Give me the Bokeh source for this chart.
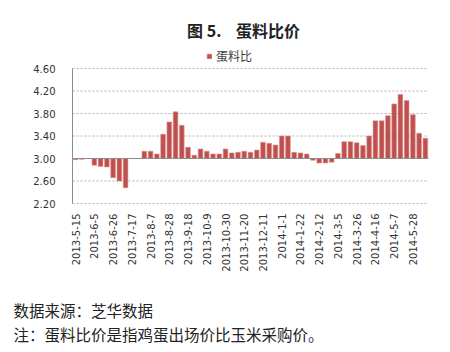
import math
import pandas as pd
from bokeh.plotting import figure
from bokeh.models import FixedTicker, Legend, LegendItem, PrintfTickFormatter, Label
from bokeh.embed import file_html
from bokeh.resources import INLINE

# weekly categories 2013-5-15 ... 2014-6-11
weeks = [f"{d.year}-{d.month}-{d.day}" for d in pd.date_range("2013-05-15", periods=57, freq="7D")]
values = [2.98, 2.985, 3.00, 2.88, 2.86, 2.85, 2.66, 2.60, 2.48, 3.00, 3.00,
          3.13, 3.13, 3.08, 3.43, 3.65, 3.83, 3.59, 3.20, 3.06, 3.17,
          3.13, 3.08, 3.08, 3.17, 3.10, 3.11, 3.13, 3.11, 3.15, 3.29,
          3.27, 3.24, 3.40, 3.40, 3.11, 3.10, 3.08, 2.97, 2.92, 2.92,
          2.935, 3.09, 3.30, 3.30, 3.28, 3.23, 3.40, 3.67, 3.67, 3.76,
          3.97, 4.14, 4.03, 3.78, 3.45, 3.36]
y_ticks = [2.20, 2.60, 3.00, 3.40, 3.80, 4.20, 4.60]
baseline = 3.00
series_name = "蛋料比"
title_text = "图 5.\u00a0\u00a0\u00a0\u00a0蛋料比价"
source_text = "数据来源：芝华数据"
note_text = "注：蛋料比价是指鸡蛋出场价比玉米采购价。"

BAR_COLOR = "#C0504D"
CJK = "Noto Sans CJK SC"
W, H = 450, 352
# plot area inside the canvas (pixels)
PL, PR, PT, PB = 72, 428, 68, 203

n = len(values)
x0, x1 = -0.5, n - 0.5
y0, y1 = y_ticks[0], y_ticks[-1]
sx = (PR - PL) / (x1 - x0)
sy = (PB - PT) / (y1 - y0)
xr = (x0 - PL / sx, x1 + (W - PR) / sx)
yr = (y0 - (H - PB) / sy, y1 + PT / sy)

p = figure(width=W, height=H, output_backend="svg", toolbar_location=None,
           x_range=xr, y_range=yr, min_border=0)
p.outline_line_color = None
p.grid.visible = False

# dotted gridlines and baseline over the plot area
p.segment(x0=[x0] * len(y_ticks), x1=[x1] * len(y_ticks), y0=y_ticks, y1=y_ticks,
          line_color="#B0B0B0", line_dash="2 2", line_width=1)

xs = list(range(n))
r = p.vbar(x=xs, top=values, bottom=baseline, width=0.75,
           fill_color=BAR_COLOR, line_color="#D99694", line_width=0.6)
p.segment(x0=[x0], x1=[x1], y0=[baseline], y1=[baseline], line_color="#8C8C8C", line_width=1)

tick_idx = xs[::3][:19]
p.xaxis.fixed_location = y0
p.xaxis.ticker = FixedTicker(ticks=tick_idx)
p.xaxis.major_label_overrides = {i: weeks[i] for i in tick_idx}
p.xaxis.major_label_orientation = math.pi / 2
p.xaxis.axis_line_color = None
p.xaxis.major_tick_line_color = None
p.xaxis.minor_tick_line_color = None
p.xaxis.major_label_text_font = "DejaVu Sans"
p.xaxis.major_label_text_font_size = "10px"
p.xaxis.major_label_text_color = "#333333"
p.xaxis.major_label_standoff = 4

p.yaxis.fixed_location = x0
p.yaxis.bounds = (y0, y1)
p.yaxis.ticker = FixedTicker(ticks=y_ticks)
p.yaxis.formatter = PrintfTickFormatter(format="%.2f")
p.yaxis.axis_line_color = "#8C8C8C"
p.yaxis.major_tick_line_color = None
p.yaxis.minor_tick_line_color = None
p.yaxis.major_label_text_font = "DejaVu Sans"
p.yaxis.major_label_text_font_size = "10px"
p.yaxis.major_label_text_color = "#333333"
p.yaxis.major_label_standoff = 11

# legend above the plot area
p.add_layout(Legend(items=[LegendItem(label=series_name, renderers=[r])],
                    location=(206, H - 64), orientation="horizontal",
                    glyph_width=6, glyph_height=6, label_standoff=4, label_height=12,
                    label_text_font=CJK, label_text_font_size="12px",
                    label_text_color="#404040", padding=0, margin=0, spacing=0,
                    border_line_color=None, background_fill_alpha=0))

# title and notes
p.add_layout(Label(x=243, y=H - 29.5, x_units="screen", y_units="screen", text=title_text,
                   text_font=CJK, text_font_style="bold", text_font_size="16px",
                   text_color="#222222", text_align="center", text_baseline="middle"))
p.add_layout(Label(x=13, y=H - 309.5, x_units="screen", y_units="screen", text=source_text,
                   text_font=CJK, text_font_size="15.5px", text_color="#222222",
                   text_align="left", text_baseline="middle"))
p.add_layout(Label(x=13, y=H - 333.5, x_units="screen", y_units="screen", text=note_text,
                   text_font=CJK, text_font_size="15.5px", text_color="#222222",
                   text_align="left", text_baseline="middle"))

open("out.html", "w").write(file_html(p, INLINE))
